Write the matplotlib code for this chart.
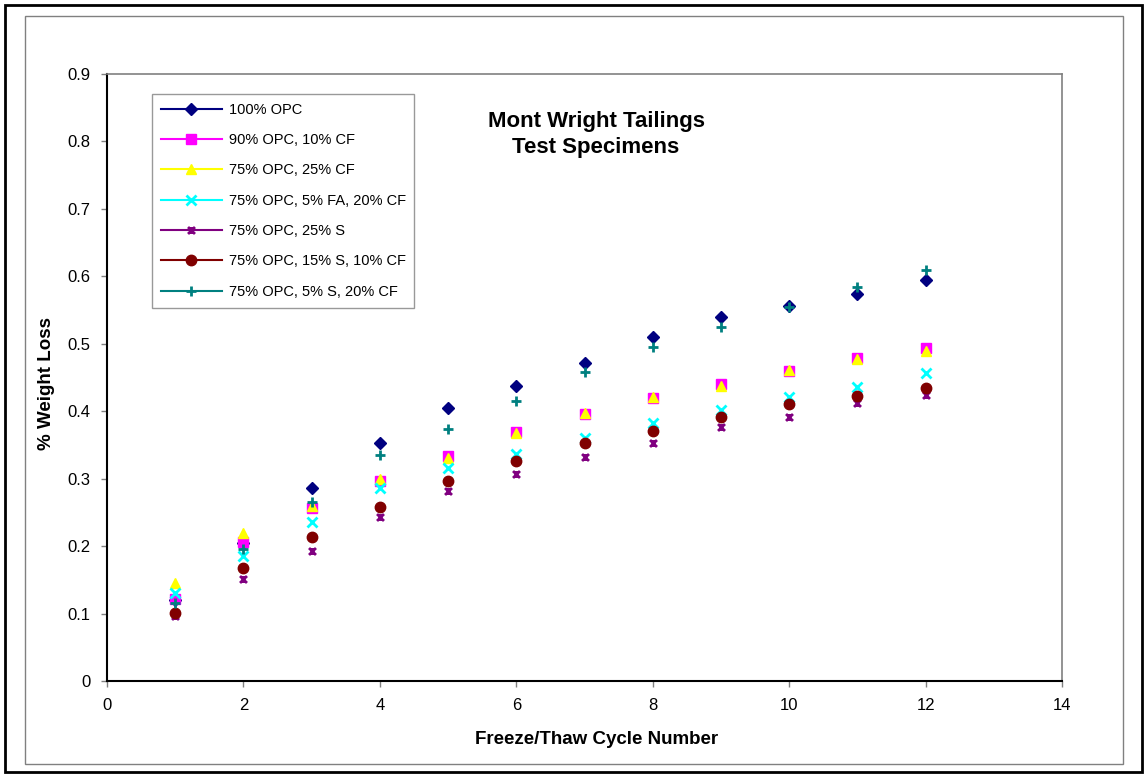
import matplotlib
matplotlib.use("Agg")
import matplotlib.pyplot as plt
from matplotlib.lines import Line2D
from matplotlib.patches import Rectangle
from matplotlib.path import Path

plt.rcParams['font.family'] = ['Liberation Sans', 'DejaVu Sans']

# freeze/thaw cycles
cycles = [1, 2, 3, 4, 5, 6, 7, 8, 9, 10, 11, 12]

# % weight loss for each mix
opc100 = [0.120, 0.205, 0.286, 0.353, 0.405, 0.437, 0.472, 0.510, 0.540, 0.556, 0.574, 0.595]
opc90_cf10 = [0.122, 0.206, 0.256, 0.297, 0.333, 0.369, 0.396, 0.420, 0.440, 0.460, 0.479, 0.493]
opc75_cf25 = [0.145, 0.219, 0.259, 0.299, 0.331, 0.368, 0.397, 0.421, 0.438, 0.461, 0.478, 0.490]
opc75_fa5_cf20 = [0.130, 0.185, 0.236, 0.286, 0.316, 0.336, 0.360, 0.383, 0.402, 0.421, 0.436, 0.457]
opc75_s25 = [0.096, 0.151, 0.193, 0.243, 0.282, 0.307, 0.332, 0.353, 0.377, 0.392, 0.412, 0.424]
opc75_s15_cf10 = [0.101, 0.168, 0.213, 0.258, 0.297, 0.326, 0.353, 0.371, 0.391, 0.411, 0.423, 0.435]
opc75_s5_cf20 = [0.116, 0.196, 0.265, 0.335, 0.374, 0.415, 0.458, 0.495, 0.525, 0.555, 0.584, 0.610]

labels = ['100% OPC', '90% OPC, 10% CF', '75% OPC, 25% CF', '75% OPC, 5% FA, 20% CF',
          '75% OPC, 25% S', '75% OPC, 15% S, 10% CF', '75% OPC, 5% S, 20% CF']

# asterisk-like marker: an X with a vertical stroke
star = Path([(-1, -1), (1, 1), (-1, 1), (1, -1), (0, -1), (0, 1)],
            [Path.MOVETO, Path.LINETO, Path.MOVETO, Path.LINETO, Path.MOVETO, Path.LINETO])

series = [
    (opc100, '#000080', 'D', 6.5, 1.0),
    (opc90_cf10, '#FF00FF', 's', 6.5, 1.0),
    (opc75_cf25, '#FFFF00', '^', 7.0, 1.0),
    (opc75_fa5_cf20, '#00FFFF', 'x', 6.5, 2.0),
    (opc75_s25, '#800080', star, 5.0, 2.0),
    (opc75_s15_cf10, '#800000', 'o', 7.5, 1.0),
    (opc75_s5_cf20, '#008080', '+', 7.0, 2.0),
]

fig = plt.figure(figsize=(11.44, 7.74), dpi=100)
ax = fig.add_axes([107 / 1144, 1 - 681 / 774, (1062 - 107) / 1144, (681 - 74) / 774])

handles = []
for (vals, col, mk, ms, mew), lab in zip(series, labels):
    ax.plot(cycles, vals, linestyle='none', marker=mk, markersize=ms,
            color=col, markeredgecolor=col, markeredgewidth=mew)
    handles.append(Line2D([], [], color=col, lw=1.5, marker=mk, markersize=ms,
                          markeredgecolor=col, markeredgewidth=mew, label=lab))

ax.set_xlim(0, 14)
ax.set_ylim(0, 0.9)
ax.set_xticks(range(0, 15, 2))
ax.set_yticks([i / 10 for i in range(10)])
ax.set_yticklabels(['0'] + ['0.%d' % i for i in range(1, 10)])

for s in ['left', 'bottom']:
    ax.spines[s].set_color('black')
    ax.spines[s].set_linewidth(1.5)
for s in ['top', 'right']:
    ax.spines[s].set_color('#808080')
    ax.spines[s].set_linewidth(1.2)

ax.tick_params(axis='both', direction='out', length=4, width=1, color='#808080',
               labelsize=12, labelcolor='black')
ax.tick_params(axis='y', pad=8)
ax.tick_params(axis='x', pad=8)

fig.text(47 / 1144, 1 - 383 / 774, '% Weight Loss', rotation=90, fontsize=13.5,
         fontweight='bold', ha='center', va='center')
fig.text(597 / 1144, 1 - 740 / 774, 'Freeze/Thaw Cycle Number', fontsize=13.5,
         fontweight='bold', ha='center', va='center')

fig.text(596 / 1144, 1 - 121 / 774, 'Mont Wright Tailings', fontsize=16,
         fontweight='bold', ha='center', va='center')
fig.text(596 / 1144, 1 - 147 / 774, 'Test Specimens', fontsize=16,
         fontweight='bold', ha='center', va='center')

leg = fig.legend(handles=handles, loc='upper left', bbox_to_anchor=(152 / 1144, 1 - 94 / 774),
                 bbox_transform=fig.transFigure, fontsize=10.5, frameon=True, fancybox=False,
                 borderpad=0.6, labelspacing=1.12, handlelength=4.2, handletextpad=0.45,
                 borderaxespad=0)
leg.get_frame().set_edgecolor('#808080')
leg.get_frame().set_linewidth(1.0)

# chart area borders
fig.patches.append(Rectangle((25 / 1144, 1 - 764 / 774), (1123 - 25) / 1144, (764 - 16) / 774,
                             transform=fig.transFigure, fill=False, edgecolor='#808080', lw=1.0))
fig.patches.append(Rectangle((5 / 1144, 1 - 772 / 774), (1142 - 5) / 1144, (772 - 5) / 774,
                             transform=fig.transFigure, fill=False, edgecolor='black', lw=2.0))

fig.savefig('out.png', dpi=100)
